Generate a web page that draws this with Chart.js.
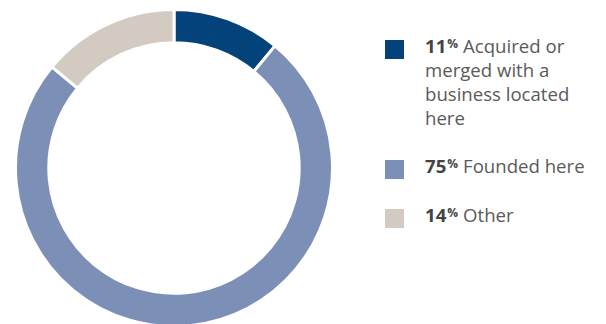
<!DOCTYPE html>
<html>
<head>
<meta charset="utf-8">
<script src="https://cdn.jsdelivr.net/npm/chart.js@4"></script>
<style>
  html, body { margin: 0; padding: 0; background: #fff; width: 606px; height: 324px; overflow: hidden; }
  #ring { position: absolute; left: 13.5px; top: 8px; width: 320px; height: 320px; }
  #legend { position: absolute; left: 385px; top: 34px; width: 210px; font-family: "Open Sans", "Noto Sans", sans-serif; }
  .item { display: flex; align-items: flex-start; margin-bottom: 24px; }
  .swatch { width: 19px; height: 19px; margin-top: 6px; flex: none; }
  .text { margin-left: 21px; width: 168px; font-size: 18.6px; line-height: 24px; color: #5a5a5a; }
  .num { font-weight: 700; color: #444; }
  .pct { font-size: 12px; font-weight: 700; color: #444; vertical-align: 5px; line-height: 0; margin-left: 1px; margin-right: 5px; }
</style>
</head>
<body>
<div id="ring"><canvas id="c"></canvas></div>
<div id="legend"></div>
<script>
// Share of respondents by how the business came to be located here
const categories = ["Acquired or merged with a business located here", "Founded here", "Other"];
const shares = [11, 75, 14];
const colors = ["#04427a", "#7b8fb7", "#d3cac1"];

new Chart(document.getElementById("c"), {
  type: "doughnut",
  data: {
    labels: categories,
    datasets: [{
      data: shares,
      backgroundColor: colors,
      borderColor: "#ffffff",
      borderWidth: 3,
      hoverOffset: 0
    }]
  },
  options: {
    responsive: true,
    maintainAspectRatio: false,
    animation: false,
    cutout: "79%",
    rotation: 0,
    layout: { padding: 0 },
    plugins: { legend: { display: false }, tooltip: { enabled: false } }
  }
});

// Legend built from the same arrays
const legend = document.getElementById("legend");
categories.forEach((name, i) => {
  const item = document.createElement("div");
  item.className = "item";
  const sw = document.createElement("div");
  sw.className = "swatch";
  sw.style.background = colors[i];
  const txt = document.createElement("div");
  txt.className = "text";
  const num = document.createElement("span");
  num.className = "num";
  num.textContent = shares[i];
  const pct = document.createElement("span");
  pct.className = "pct";
  pct.textContent = "%";
  txt.appendChild(num);
  txt.appendChild(pct);
  txt.appendChild(document.createTextNode(name));
  item.appendChild(sw);
  item.appendChild(txt);
  legend.appendChild(item);
});
</script>
</body>
</html>
